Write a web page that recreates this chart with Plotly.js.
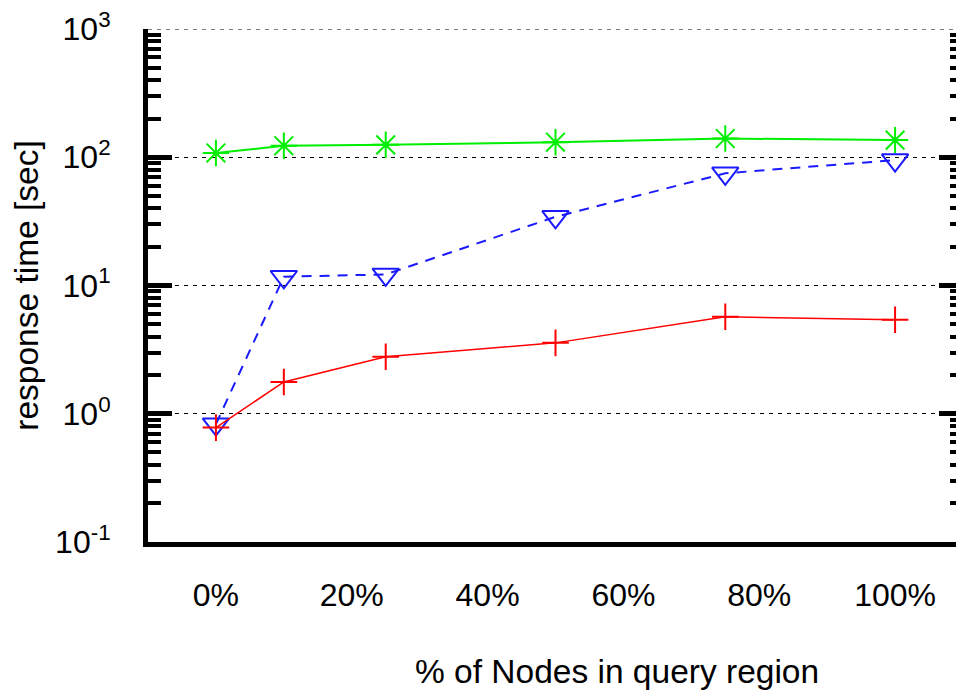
<!DOCTYPE html>
<html><head><meta charset="utf-8">
<script src="https://cdn.plot.ly/plotly-3.0.1.min.js"></script>
<style>html,body{margin:0;padding:0;overflow:hidden;background:#fff}</style>
</head><body><div id="chart" style="width:970px;height:694px"></div>
<script>
const xPercent = [0, 10, 25, 50, 75, 100];
const seriesGreen = [108, 123, 125, 131, 140, 136];
const seriesBlue = [0.83, 11.7, 12.2, 34.3, 75, 95];
const seriesRed = [0.78, 1.77, 2.78, 3.57, 5.7, 5.4];
const xTickVals = [0, 20, 40, 60, 80, 100];
const xTickText = ['0%', '20%', '40%', '60%', '80%', '100%'];
const yTickVals = [0.1, 1, 10, 100, 1000];
const yTickText = ['10<sup>-1</sup>', '10<sup>0</sup>', '10<sup>1</sup>', '10<sup>2</sup>', '10<sup>3</sup>'];
const xTitle = '% of Nodes in query region';
const yTitle = 'response time [sec]';

const fontFamily = 'Liberation Sans, Arial, sans-serif';
const tickFont = {family: fontFamily, size: 32, color: '#000'};
const titleFont = {family: fontFamily, size: 33.5, color: '#000'};

const traces = [
  {x: xPercent, y: seriesGreen, mode: 'lines+markers', line: {color: '#00ee00', width: 2},
   marker: {symbol: 'asterisk-open', size: 22, color: '#00ee00', line: {color: '#00ee00', width: 2}}},
  {x: xPercent, y: seriesBlue, mode: 'lines+markers', line: {color: '#1a1aff', width: 2, dash: '10px,8px'},
   marker: {symbol: 'triangle-down-open', size: 23, color: '#1a1aff', line: {color: '#1a1aff', width: 2}}},
  {x: xPercent, y: seriesRed, mode: 'lines+markers', line: {color: '#ff0000', width: 1.5},
   marker: {symbol: 'cross-thin-open', size: 19, color: '#ff0000', line: {color: '#ff0000', width: 2}}}
];

const topTick = yTickVals[yTickVals.length - 1];

const layout = {
  width: 970, height: 694,
  margin: {l: 148, r: 7, t: 29, b: 152},
  paper_bgcolor: '#fff', plot_bgcolor: '#fff',
  showlegend: false,
  font: tickFont,
  xaxis: {
    range: [-10, 110], tickmode: 'array', tickvals: xTickVals, ticktext: xTickText,
    ticks: '', showgrid: false, zeroline: false,
    showline: true, linewidth: 5, linecolor: '#000', mirror: false,
    ticklabelstandoff: 21, tickfont: tickFont
  },
  yaxis: {
    type: 'log', range: [-1, 3], tickmode: 'array', tickvals: yTickVals, ticktext: yTickText,
    ticks: 'inside', ticklen: 24, tickwidth: 5, tickcolor: '#000',
    showline: true, linewidth: 5, linecolor: '#000', mirror: 'ticks',
    showgrid: true, gridcolor: '#000', gridwidth: 1, griddash: '4px,5px',
    zeroline: false,
    minor: {dtick: 'D1', ticks: 'inside', ticklen: 13, tickwidth: 4, tickcolor: '#000', showgrid: false},
    ticklabelstandoff: 26, tickfont: tickFont,
    title: {text: yTitle, font: titleFont, standoff: 8}
  },
  shapes: [
    {type: 'line', xref: 'paper', yref: 'y', x0: 0, x1: 1, y0: topTick, y1: topTick,
     line: {color: '#000', width: 1, dash: '4px,5px'}, layer: 'below'}
  ],
  annotations: [
    {text: xTitle, xref: 'paper', yref: 'paper', x: 0.576, y: -0.252,
     xanchor: 'center', yanchor: 'middle', showarrow: false, font: titleFont}
  ]
};

Plotly.newPlot('chart', traces, layout, {staticPlot: true, displayModeBar: false});
</script></body></html>
